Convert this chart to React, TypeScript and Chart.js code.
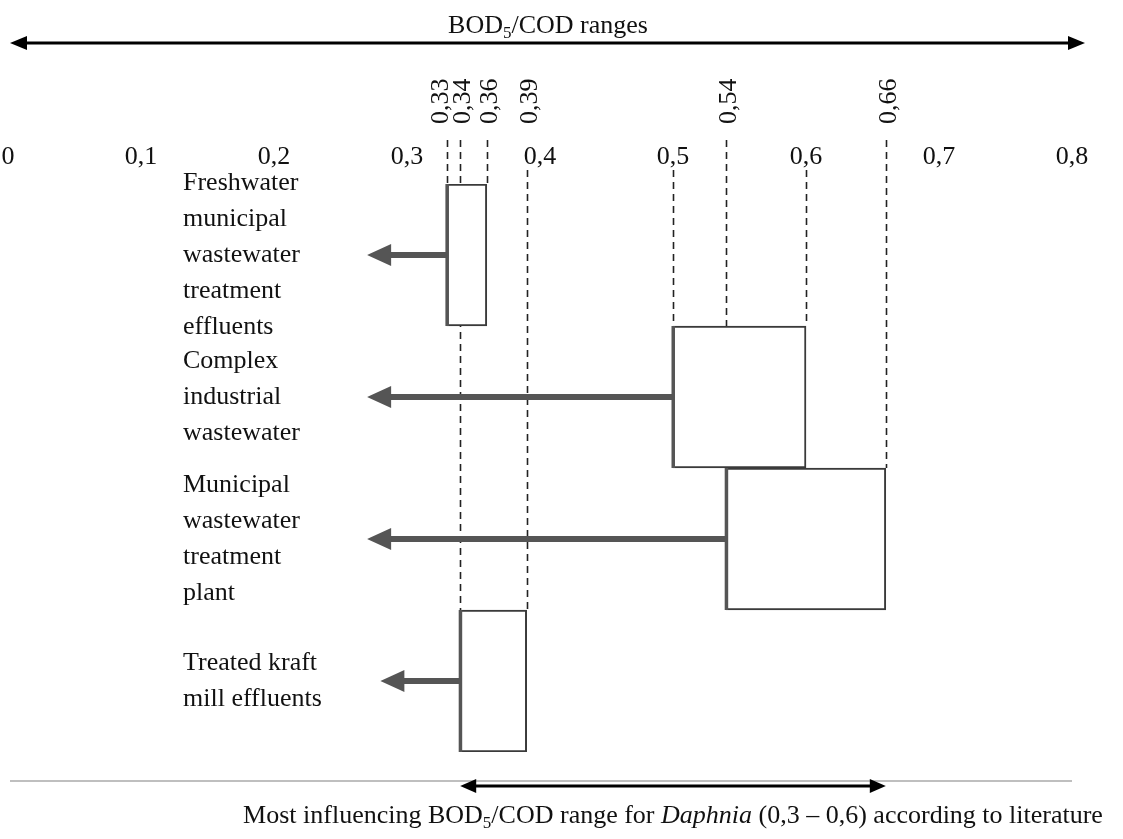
import React, { useEffect, useRef } from "react";
import { Chart, registerables } from "chart.js";

Chart.register(...registerables);

// ---------- data ----------
const categories: string[][] = [
  ["Freshwater", "municipal", "wastewater", "treatment", "effluents"],
  ["Complex", "industrial", "wastewater"],
  ["Municipal", "wastewater", "treatment", "plant"],
  ["Treated kraft", "mill effluents"],
];
const rangeLow = [0.33, 0.5, 0.54, 0.34];
const rangeHigh = [0.36, 0.6, 0.66, 0.39];
const arrowTips = [0.27, 0.27, 0.27, 0.28];

const xTickValues = [0, 0.1, 0.2, 0.3, 0.4, 0.5, 0.6, 0.7, 0.8];
const xTickLabels = ["0", "0,1", "0,2", "0,3", "0,4", "0,5", "0,6", "0,7", "0,8"];

const markedValues = [0.33, 0.34, 0.36, 0.39, 0.54, 0.66];
const markedLabels = ["0,33", "0,34", "0,36", "0,39", "0,54", "0,66"];

const daphniaRange = [0.34, 0.66];

const titleSegments = [
  { text: "BOD" },
  { text: "5", sub: true },
  { text: "/COD ranges" },
];
const footerSegments = [
  { text: "Most influencing BOD" },
  { text: "5", sub: true },
  { text: "/COD range for " },
  { text: "Daphnia", italic: true },
  { text: " (0,3 \u2013 0,6) according to literature" },
];

// ---------- helpers ----------
const SERIF = '"Liberation Serif", "Times New Roman", serif';
const FONT_SIZE = 26;

type Seg = { text: string; sub?: boolean; italic?: boolean };

function drawRich(ctx: CanvasRenderingContext2D, segs: Seg[], cx: number, baseline: number, size: number) {
  const fontFor = (s: Seg) =>
    `${s.italic ? "italic " : ""}${s.sub ? Math.round(size * 0.65) : size}px ${SERIF}`;
  let total = 0;
  segs.forEach((s) => {
    ctx.font = fontFor(s);
    total += ctx.measureText(s.text).width;
  });
  let x = cx - total / 2;
  ctx.textAlign = "left";
  ctx.textBaseline = "alphabetic";
  segs.forEach((s) => {
    ctx.font = fontFor(s);
    ctx.fillText(s.text, x, baseline + (s.sub ? size * 0.2 : 0));
    x += ctx.measureText(s.text).width;
  });
}

function arrowHead(ctx: CanvasRenderingContext2D, tipX: number, y: number, dir: number, len: number, half: number) {
  ctx.beginPath();
  ctx.moveTo(tipX, y);
  ctx.lineTo(tipX - dir * len, y - half);
  ctx.lineTo(tipX - dir * len, y + half);
  ctx.closePath();
  ctx.fill();
}

const diagramPlugin = {
  id: "diagramPlugin",
  beforeDatasetsDraw(chart: any) {
    const ctx: CanvasRenderingContext2D = chart.ctx;
    const xs = chart.scales.x;
    const meta = chart.getDatasetMeta(0);
    ctx.save();
    ctx.font = `${FONT_SIZE}px ${SERIF}`;
    const tickSpans = xTickValues.map((t, i) => ({
      x: xs.getPixelForValue(t),
      half: ctx.measureText(xTickLabels[i]).width / 2 + 2,
    }));
    ctx.strokeStyle = "#222";
    ctx.lineWidth = 1.6;
    ctx.setLineDash([7, 5]);
    rangeLow.forEach((lo, i) => {
      const bar: any = meta.data[i];
      const boxTop = bar.y - bar.height / 2;
      [lo, rangeHigh[i]].forEach((v) => {
        const px = xs.getPixelForValue(v);
        const x = Math.round(px) + 0.5;
        const hitsLabel = tickSpans.some((s) => Math.abs(s.x - px) < s.half);
        const top = hitsLabel ? 170 : 140;
        ctx.beginPath();
        ctx.moveTo(x, top);
        ctx.lineTo(x, boxTop);
        ctx.stroke();
      });
    });
    ctx.restore();
  },
  afterDraw(chart: any) {
    const ctx: CanvasRenderingContext2D = chart.ctx;
    const xs = chart.scales.x;
    const area = chart.chartArea;
    const meta = chart.getDatasetMeta(0);
    ctx.save();

    // Left edge emphasis + arrows from boxes
    ctx.fillStyle = "#555";
    rangeLow.forEach((lo, i) => {
      const bar: any = meta.data[i];
      const y = bar.y;
      const xStart = xs.getPixelForValue(lo);
      const tip = xs.getPixelForValue(arrowTips[i]);
      ctx.fillRect(xStart - 1.5, bar.y - bar.height / 2, 3.5, bar.height);
      ctx.fillRect(tip + 20, y - 3, xStart - tip - 20, 6);
      arrowHead(ctx, tip, y, -1, 24, 11);
    });

    // Rotated value labels
    ctx.fillStyle = "#111";
    ctx.font = `${FONT_SIZE}px ${SERIF}`;
    const centers = markedValues.map((v) => xs.getPixelForValue(v) + 3);
    for (let i = centers.length - 2; i >= 0; i--) {
      if (centers[i] > centers[i + 1] - 22) centers[i] = centers[i + 1] - 22;
    }
    markedLabels.forEach((lab, i) => {
      ctx.save();
      ctx.translate(centers[i], 124);
      ctx.rotate(-Math.PI / 2);
      ctx.textAlign = "left";
      ctx.textBaseline = "middle";
      ctx.fillText(lab, 0, 0);
      ctx.restore();
    });

    // Top title and double arrow
    ctx.fillStyle = "#111";
    drawRich(ctx, titleSegments, 548, 33, FONT_SIZE);
    const topY = 43;
    const tl = area.left + 2;
    const tr = area.right + 13;
    ctx.strokeStyle = "#000";
    ctx.fillStyle = "#000";
    ctx.lineWidth = 3;
    ctx.beginPath();
    ctx.moveTo(tl + 10, topY);
    ctx.lineTo(tr - 10, topY);
    ctx.stroke();
    arrowHead(ctx, tl, topY, -1, 17, 7);
    arrowHead(ctx, tr, topY, 1, 17, 7);

    // Bottom separator line
    ctx.strokeStyle = "#aaa";
    ctx.lineWidth = 1.5;
    ctx.beginPath();
    ctx.moveTo(area.left + 2, 781);
    ctx.lineTo(xs.getPixelForValue(0.8), 781);
    ctx.stroke();

    // Daphnia range double arrow
    const by = 786;
    const bl = xs.getPixelForValue(daphniaRange[0]);
    const br = xs.getPixelForValue(daphniaRange[1]);
    ctx.strokeStyle = "#000";
    ctx.fillStyle = "#000";
    ctx.lineWidth = 3;
    ctx.beginPath();
    ctx.moveTo(bl + 10, by);
    ctx.lineTo(br - 10, by);
    ctx.stroke();
    arrowHead(ctx, bl, by, -1, 16, 7);
    arrowHead(ctx, br, by, 1, 16, 7);

    // Footer text
    ctx.fillStyle = "#111";
    drawRich(ctx, footerSegments, 673, 823, FONT_SIZE);

    ctx.restore();
  },
};

export default function App() {
  const canvasRef = useRef<HTMLCanvasElement | null>(null);

  useEffect(() => {
    if (!canvasRef.current) return;
    const chart = new Chart(canvasRef.current, {
      type: "bar",
      data: {
        labels: categories as any,
        datasets: [
          {
            data: rangeLow.map((lo, i) => [lo, rangeHigh[i]]) as any,
            backgroundColor: "#ffffff",
            borderColor: "#3a3a3a",
            borderWidth: 2,
            borderSkipped: false,
            barPercentage: 1,
            categoryPercentage: 1,
          },
        ],
      },
      options: {
        indexAxis: "y",
        responsive: true,
        maintainAspectRatio: false,
        animation: false,
        layout: { padding: { left: 8, right: 51, top: 121, bottom: 87 } },
        plugins: {
          legend: { display: false },
          tooltip: { enabled: false },
        },
        scales: {
          x: {
            type: "linear",
            position: "top",
            min: 0,
            max: 0.8,
            grid: { display: false, drawTicks: false },
            border: { display: false },
            afterBuildTicks: (scale: any) => {
              scale.ticks = xTickValues.map((v) => ({ value: v }));
            },
            afterFit: (scale: any) => {
              scale.paddingLeft = 0;
              scale.paddingRight = 0;
              scale.height = 63;
            },
            ticks: {
              padding: 11,
              color: "#111",
              font: { family: SERIF, size: FONT_SIZE },
              maxRotation: 0,
              autoSkip: false,
              callback: (_v: any, i: number) => xTickLabels[i],
            },
          },
          y: {
            type: "category",
            position: "left",
            grid: { display: false, drawTicks: false },
            border: { display: false },
            afterFit: (scale: any) => {
              scale.width = 0;
              scale.paddingTop = 0;
              scale.paddingBottom = 0;
            },
            ticks: {
              mirror: true,
              padding: 175,
              color: "#111",
              font: { family: SERIF, size: FONT_SIZE, lineHeight: 1.38 },
              autoSkip: false,
            },
          },
        },
      },
      plugins: [diagramPlugin],
    });
    return () => chart.destroy();
  }, []);

  return (
    <div
      style={{
        position: "fixed",
        left: 0,
        top: 0,
        width: 1123,
        height: 839,
        background: "#ffffff",
      }}
    >
      <canvas ref={canvasRef} />
    </div>
  );
}
